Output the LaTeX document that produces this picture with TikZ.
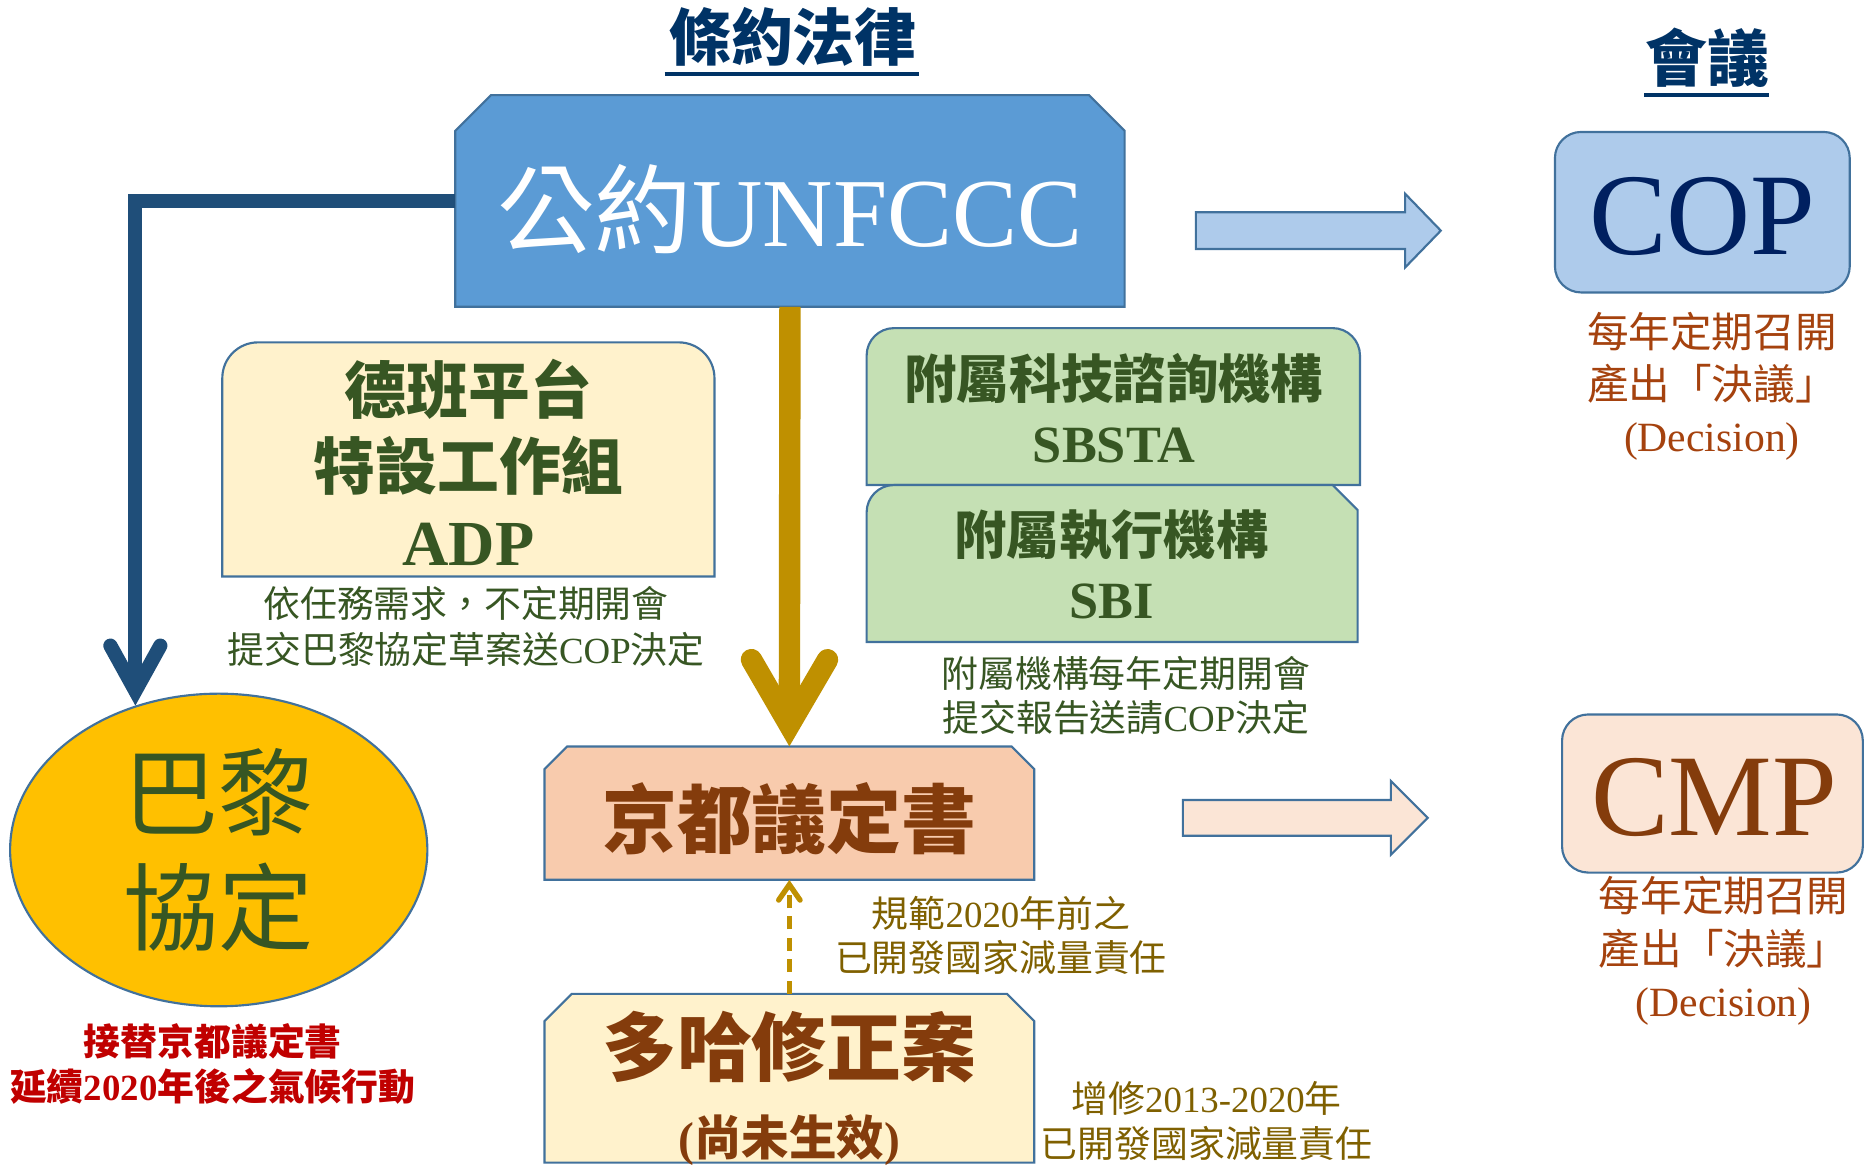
\documentclass[tikz,border=0pt]{standalone}
\usepackage{fontspec}
\setmainfont{Liberation Serif}
\newfontfamily\cjk{Noto Sans CJK TC}
\usetikzlibrary{arrows.meta,shapes.geometric}

\definecolor{unblue}{HTML}{5B9BD5}
\definecolor{edgeblue}{HTML}{41719C}
\definecolor{navyline}{HTML}{1F4E79}
\definecolor{titleblue}{HTML}{003366}
\definecolor{goldline}{HTML}{BF9000}
\definecolor{adpfill}{HTML}{FFF2CC}
\definecolor{sbfill}{HTML}{C5E0B4}
\definecolor{leaf}{HTML}{375623}
\definecolor{parisfill}{HTML}{FFC000}
\definecolor{alertred}{HTML}{C00000}
\definecolor{kyotofill}{HTML}{F8CBAD}
\definecolor{rust}{HTML}{843C0C}
\definecolor{labelolive}{HTML}{7F6000}
\definecolor{copfill}{HTML}{AECBEB}
\definecolor{copnavy}{HTML}{002060}
\definecolor{cmpfill}{HTML}{FBE5D6}
\definecolor{decisionred}{HTML}{A5420E}

\newcommand{\fsz}[2]{\fontsize{#1}{#2}\selectfont}
\newcommand{\lat}[1]{{\rmfamily #1}}

\tikzset{
  boxline/.style={draw=edgeblue, line width=1.8pt},
  boxtext/.style={inner sep=0pt, align=center},
  heading/.style={inner sep=0pt, text=titleblue, font=\cjk\bfseries\fsz{52}{60}},
  headrule/.style={titleblue, line width=3.5pt}
}

\begin{document}
\begin{tikzpicture}[x=1pt, y=-1pt]
\useasboundingbox (0,0) rectangle (1568,980);

% headings
\node[heading] (lawhead) at (667,31) {條約法律};
\draw[headrule] (559,62) -- (773,62);
\node[heading] (meethead) at (1436,49) {會議};
\draw[headrule] (1383,80) -- (1488,80);

% convention box
\draw[boxline, fill=unblue] (383,258) -- (383,110) -- (413,80) -- (916,80) -- (946,110) -- (946,258) -- cycle;
\node[boxtext, minimum width=563pt, minimum height=178pt, text=white, font=\fsz{82}{90}, text height=76pt, text depth=0pt] (unfccc) at (664.5,169) {{\cjk 公約}UNFCCC};

% ADP
\draw[boxline, fill=adpfill] (187,485) -- (187,318) arc[start angle=180, end angle=90, radius=30pt] -- (571,288) arc[start angle=90, end angle=0, radius=30pt] -- (601,485) -- cycle;
\node[boxtext, text=leaf, font=\cjk\bfseries\fsz{52}{64}] (adp) at (394,389) {德班平台\\特設工作組\\\lat{\fsz{54}{64}ADP}};
\node[boxtext, text=leaf, font=\cjk\fsz{31}{38}] (adpnote) at (392,527) {依任務需求，不定期開會\\提交巴黎協定草案送\lat{COP}決定};

% SBSTA and SBI
\draw[boxline, fill=sbfill] (729,408) -- (729,299) arc[start angle=180, end angle=90, radius=23pt] -- (1121,276) arc[start angle=90, end angle=0, radius=23pt] -- (1144,408) -- cycle;
\node[boxtext, text=leaf, font=\cjk\bfseries\fsz{44}{54}] (sbsta) at (937,343) {附屬科技諮詢機構\\\lat{SBSTA}};
\draw[boxline, fill=sbfill] (729,540) -- (729,431) arc[start angle=180, end angle=90, radius=23pt] -- (1121,408) -- (1142,429) -- (1142,540) -- cycle;
\node[boxtext, text=leaf, font=\cjk\bfseries\fsz{44}{54}] (sbi) at (935,475) {附屬執行機構\\\lat{SBI}};
\node[boxtext, text=leaf, font=\cjk\fsz{31}{37}] (sbnote) at (947,585) {附屬機構每年定期開會\\提交報告送請\lat{COP}決定};

% Paris
\node[ellipse, draw=edgeblue, line width=1.8pt, fill=parisfill, minimum width=351pt, minimum height=263pt, inner sep=0pt, align=center, text=leaf, font=\cjk\fsz{80}{97}] (paris) at (184,715) {巴黎\\協定};
\node[boxtext, text=alertred, font=\cjk\bfseries\fsz{31}{38}] (parisnote) at (179,895) {接替京都議定書\\延續\lat{2020}年後之氣候行動};

% Kyoto
\draw[boxline, fill=kyotofill] (458,740) -- (458,647) -- (477,628) -- (851,628) -- (870,647) -- (870,740) -- cycle;
\node[boxtext, minimum width=412pt, minimum height=112pt, text=rust, font=\cjk\bfseries\fsz{63}{70}, text height=57pt, text depth=0pt] (kyoto) at (664,684) {京都議定書};
\node[boxtext, text=labelolive, font=\cjk\fsz{31}{37}] (kyotonote) at (842,787) {規範\lat{2020}年前之\\已開發國家減量責任};

% Doha
\draw[boxline, fill=adpfill] (458,978) -- (458,859) -- (481,836) -- (847,836) -- (870,859) -- (870,978) -- cycle;
\node[boxtext, minimum width=412pt, minimum height=142pt, text=rust, font=\cjk\bfseries\fsz{63}{70}, text height=52pt, text depth=56pt] (doha) at (664,907) {多哈修正案};
\node[boxtext, text=rust, font=\cjk\bfseries\fsz{40}{48}] (dohasub) at (664,959) {\lat{(}尚未生效\lat{)}};
\node[boxtext, text=labelolive, font=\cjk\fsz{31}{38}] (dohanote) at (1015,943) {增修\lat{2013-2020}年\\已開發國家減量責任};

% connectors
\draw[navyline, line width=12pt, -{Straight Barb[length=38pt, width=42pt, line cap=round]}] (unfccc.west) -| (paris.120);
\draw[goldline, line width=18pt, -{Straight Barb[length=55pt, width=64pt, line cap=round]}] (unfccc.south) -- (kyoto.north);
\draw[goldline, line width=4.5pt, dash pattern=on 11pt off 7pt, -{Straight Barb[length=13pt, width=18pt, line cap=round]}] (doha.north) -- (kyoto.south);

% COP
\draw[boxline, fill=copfill] (1006,178.5) -- (1182,178.5) -- (1182,163) -- (1212,194) -- (1182,225) -- (1182,209.5) -- (1006,209.5) -- cycle;
\draw[boxline, fill=copfill, rounded corners=22pt] (1308,111) rectangle (1556,246);
\node[boxtext, text=copnavy, font=\fsz{98}{100}] (cop) at (1432,182) {COP};
\node[boxtext, text=decisionred, font=\cjk\fsz{35}{44}] (copnote) at (1440,325) {每年定期召開\\產出「決議」\\\lat{(Decision)}};

% CMP
\draw[boxline, fill=cmpfill] (995,673) -- (1170,673) -- (1170,657) -- (1201,688) -- (1170,719) -- (1170,703) -- (995,703) -- cycle;
\draw[boxline, fill=cmpfill, rounded corners=22pt] (1314,601) rectangle (1567,734);
\node[boxtext, text=rust, font=\fsz{98}{100}] (cmp) at (1442,671) {CMP};
\node[boxtext, text=decisionred, font=\cjk\fsz{35}{44}] (cmpnote) at (1450,800) {每年定期召開\\產出「決議」\\\lat{(Decision)}};
\end{tikzpicture}
\end{document}
